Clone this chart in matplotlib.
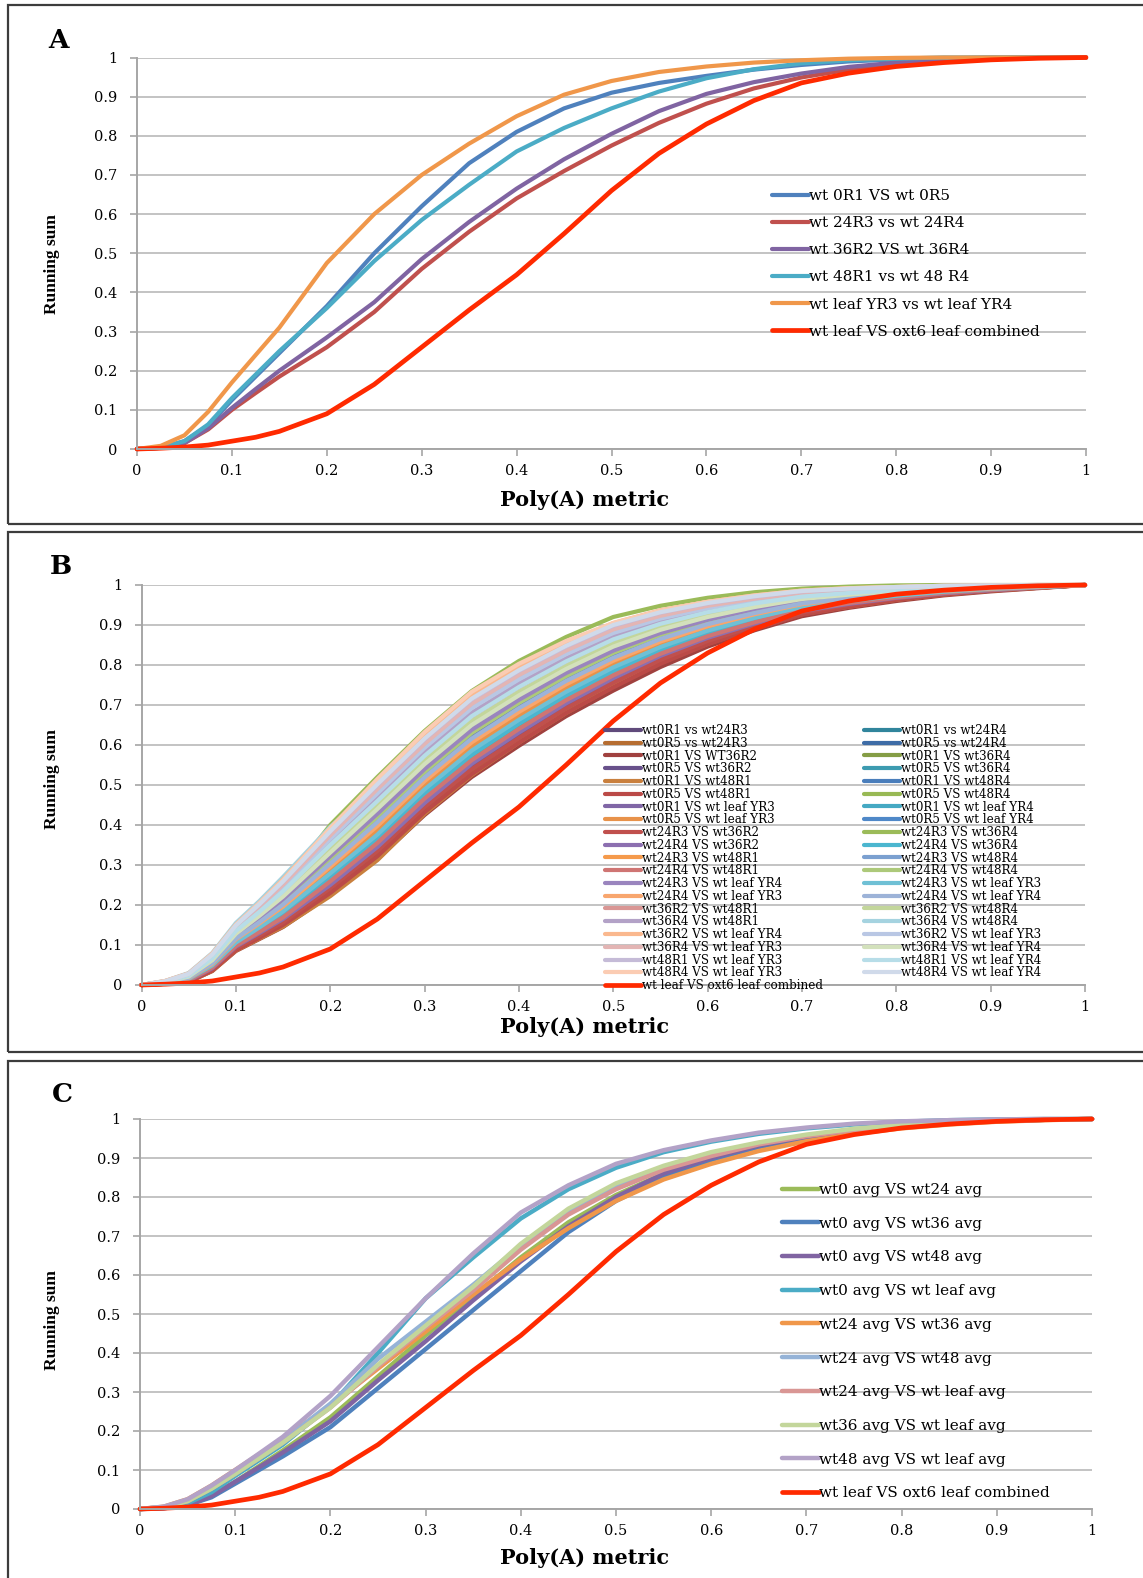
"""Three stacked running-sum panels (A, B, C) of the Poly(A) metric."""
import matplotlib
matplotlib.use("Agg")
import matplotlib.pyplot as plt
from matplotlib.patches import Rectangle
from matplotlib.ticker import MultipleLocator, FuncFormatter

W, H = 1143, 1578
DPI = 100

# x positions shared by every curve (denser near the origin, where the curves bend)
X = [0, .025, .05, .075, .1, .125, .15, .2, .25, .3, .35, .4, .45, .5, .55,
     .6, .65, .7, .75, .8, .85, .9, .95, 1]

# --- red reference curve (same in all panels) ---------------------------
RED_LABEL = "wt leaf VS oxt6 leaf combined"
RED_COLOR = "#FF2A00"
RED = [0, .002, .005, .01, .02, .03, .045, .09, .165, .26, .355, .445, .55,
       .66, .755, .83, .89, .935, .96, .977, .987, .994, .998, 1]

# --- panel A ------------------------------------------------------------
A_LABELS = ["wt 0R1 VS wt 0R5", "wt 24R3 vs wt 24R4", "wt 36R2 VS wt 36R4",
            "wt 48R1 vs wt 48 R4", "wt leaf YR3 vs wt leaf YR4"]
A_COLORS = ["#4F81BD", "#C0504D", "#8064A2", "#4BACC6", "#F0974A"]
A_BLUE = [0, .003, .02, .06, .125, .185, .245, .365, .50, .62, .73, .81, .87,
          .91, .935, .953, .969, .981, .99, .995, .998, 1, 1, 1]
A_BROWN = [0, .003, .015, .05, .10, .143, .185, .26, .35, .46, .555, .64, .71,
           .775, .833, .882, .921, .949, .969, .982, .99, .996, .999, 1]
A_PURPLE = [0, .003, .015, .053, .105, .153, .20, .285, .375, .485, .58, .665,
            .74, .805, .863, .907, .937, .959, .976, .987, .994, .998, 1, 1]
A_CYAN = [0, .003, .02, .063, .13, .19, .25, .36, .48, .585, .675, .76, .82,
          .87, .913, .947, .97, .985, .993, .997, 1, 1, 1, 1]
A_ORANGE = [0, .008, .035, .095, .17, .24, .31, .475, .60, .70, .78, .85, .905,
            .94, .963, .977, .987, .993, .997, .999, 1, 1, 1, 1]
A_VALUES = [A_BLUE, A_BROWN, A_PURPLE, A_CYAN, A_ORANGE]

# --- panel B (legend order, row by row) ---------------------------------
B_LABELS = [
    "wt0R1 vs wt24R3", "wt0R1 vs wt24R4",
    "wt0R5 vs wt24R3", "wt0R5 vs wt24R4",
    "wt0R1 VS WT36R2", "wt0R1 VS wt36R4",
    "wt0R5 VS wt36R2", "wt0R5 VS wt36R4",
    "wt0R1 VS wt48R1", "wt0R1 VS wt48R4",
    "wt0R5 VS wt48R1", "wt0R5 VS wt48R4",
    "wt0R1 VS wt leaf YR3", "wt0R1 VS wt leaf YR4",
    "wt0R5 VS wt leaf YR3", "wt0R5 VS wt leaf YR4",
    "wt24R3 VS wt36R2", "wt24R3 VS wt36R4",
    "wt24R4 VS wt36R2", "wt24R4 VS wt36R4",
    "wt24R3 VS wt48R1", "wt24R3 VS wt48R4",
    "wt24R4 VS wt48R1", "wt24R4 VS wt48R4",
    "wt24R3 VS wt leaf YR4", "wt24R3 VS wt leaf YR3",
    "wt24R4 VS wt leaf YR3", "wt24R4 VS wt leaf YR4",
    "wt36R2 VS wt48R1", "wt36R2 VS wt48R4",
    "wt36R4 VS wt48R1", "wt36R4 VS wt48R4",
    "wt36R2 VS wt leaf YR4", "wt36R2 VS wt leaf YR3",
    "wt36R4 VS wt leaf YR3", "wt36R4 VS wt leaf YR4",
    "wt48R1 VS wt leaf YR3", "wt48R1 VS wt leaf YR4",
    "wt48R4 VS wt leaf YR3", "wt48R4 VS wt leaf YR4",
]
B_COLORS = [
    "#604A7B", "#31859C", "#B66D31", "#3E6CA6", "#A0413F", "#859D45",
    "#68518B", "#3D9BB0", "#C9803E", "#4A7EBB", "#BB4A47", "#98B954",
    "#8066A6", "#45A9C3", "#E8924A", "#4F88C8", "#C0504D", "#9BBB59",
    "#8C6FB0", "#4BB6CF", "#F59A4B", "#7BA0D0", "#CF7573", "#ADC97A",
    "#9A85BE", "#6FC0D5", "#F8A66E", "#9DB3D8", "#D99694", "#C3D69B",
    "#B3A2C7", "#A5D3E0", "#FAB88E", "#B9C7E4", "#E3B5B4", "#D3E1BC",
    "#C5BBD7", "#B7DDE8", "#FBCCB3", "#D0DAEA",
]
B_VALUES = [
    [0, .004, .011, .042, .095, .129, .164, .252, .346, .456, .552, .63, .703, .766, .822, .867, .903, .935, .952, .967, .979, .987, .994, 1],
    [0, .005, .015, .049, .106, .144, .183, .278, .377, .488, .585, .662, .732, .793, .844, .885, .917, .945, .96, .973, .983, .99, .995, 1],
    [0, .003, .009, .037, .088, .12, .151, .234, .325, .435, .531, .61, .684, .749, .807, .856, .894, .928, .947, .964, .976, .986, .993, 1],
    [0, .005, .016, .051, .11, .148, .189, .286, .387, .498, .595, .672, .741, .801, .851, .89, .921, .948, .962, .974, .984, .99, .995, 1],
    [0, .003, .008, .035, .085, .115, .145, .225, .315, .425, .52, .598, .672, .736, .795, .846, .887, .922, .943, .96, .974, .984, .992, 1],
    [0, .004, .012, .044, .099, .134, .17, .26, .356, .467, .563, .641, .713, .775, .829, .873, .908, .938, .955, .969, .98, .988, .994, 1],
    [0, .004, .01, .04, .092, .125, .158, .243, .336, .446, .542, .62, .694, .758, .815, .862, .899, .932, .95, .966, .978, .987, .994, 1],
    [0, .005, .013, .046, .102, .139, .176, .269, .366, .477, .574, .652, .722, .784, .836, .879, .912, .941, .957, .971, .981, .989, .995, 1],
    [0, .003, .008, .035, .086, .116, .146, .222, .312, .428, .525, .606, .68, .746, .805, .853, .892, .927, .946, .963, .976, .986, .993, 1],
    [0, .005, .014, .048, .105, .143, .182, .28, .38, .49, .586, .664, .734, .795, .846, .886, .918, .946, .961, .973, .983, .99, .995, 1],
    [0, .003, .008, .036, .087, .118, .15, .23, .322, .432, .527, .606, .68, .744, .803, .852, .891, .926, .946, .963, .976, .986, .993, 1],
    [0, .004, .012, .045, .1, .135, .172, .262, .358, .468, .562, .64, .712, .776, .83, .874, .909, .939, .956, .97, .98, .988, .994, 1],
    [0, .007, .019, .058, .12, .163, .208, .313, .418, .53, .628, .703, .77, .828, .873, .908, .935, .958, .97, .98, .988, .993, .997, 1],
    [0, .005, .015, .049, .107, .145, .185, .28, .378, .487, .583, .66, .73, .79, .842, .884, .916, .944, .96, .973, .983, .99, .995, 1],
    [0, .005, .016, .051, .11, .149, .19, .287, .388, .5, .596, .673, .742, .802, .852, .891, .922, .948, .963, .975, .984, .991, .996, 1],
    [0, .006, .018, .055, .117, .158, .202, .304, .408, .52, .617, .693, .761, .819, .866, .902, .931, .955, .968, .978, .987, .992, .996, 1],
    [0, .004, .009, .039, .091, .124, .157, .242, .335, .445, .54, .618, .692, .756, .813, .86, .898, .931, .95, .966, .978, .987, .994, 1],
    [0, .009, .026, .071, .141, .193, .25, .40, .52, .635, .735, .81, .87, .92, .948, .968, .982, .991, .996, .999, 1, 1, 1, 1],
    [0, .004, .011, .042, .096, .13, .165, .25, .345, .455, .553, .631, .704, .767, .823, .868, .904, .935, .953, .968, .979, .987, .994, 1],
    [0, .005, .014, .046, .103, .14, .177, .27, .367, .478, .575, .653, .723, .785, .837, .88, .913, .942, .958, .971, .982, .989, .995, 1],
    [0, .006, .017, .053, .113, .153, .195, .295, .397, .509, .606, .682, .751, .81, .858, .896, .926, .951, .965, .976, .985, .991, .996, 1],
    [0, .007, .021, .062, .127, .172, .22, .33, .438, .551, .649, .723, .789, .845, .887, .919, .944, .964, .975, .984, .99, .994, .997, 1],
    [0, .004, .012, .044, .098, .133, .169, .259, .355, .466, .562, .64, .712, .774, .828, .872, .907, .937, .955, .969, .98, .988, .994, 1],
    [0, .007, .019, .058, .121, .164, .21, .315, .42, .532, .63, .705, .772, .83, .875, .909, .936, .959, .971, .98, .988, .993, .997, 1],
    [0, .007, .02, .06, .124, .168, .214, .322, .428, .54, .638, .713, .78, .836, .88, .913, .94, .961, .972, .982, .989, .993, .997, 1],
    [0, .005, .015, .049, .106, .144, .184, .279, .376, .489, .586, .663, .733, .794, .845, .886, .918, .945, .96, .973, .983, .99, .995, 1],
    [0, .006, .017, .053, .114, .154, .196, .296, .398, .51, .607, .683, .752, .811, .859, .897, .927, .952, .966, .977, .985, .991, .996, 1],
    [0, .006, .018, .055, .116, .157, .201, .303, .407, .519, .616, .692, .76, .818, .865, .902, .93, .954, .967, .978, .986, .992, .996, 1],
    [0, .008, .023, .067, .134, .182, .233, .348, .459, .572, .671, .744, .808, .863, .902, .931, .953, .971, .98, .987, .993, .996, .998, 1],
    [0, .008, .022, .064, .13, .177, .226, .339, .448, .561, .66, .733, .798, .854, .894, .925, .948, .967, .977, .985, .991, .995, .998, 1],
    [0, .008, .024, .069, .137, .186, .239, .356, .469, .582, .681, .754, .817, .871, .909, .936, .957, .974, .982, .989, .994, .996, .998, 1],
    [0, .01, .03, .08, .155, .21, .27, .395, .50, .605, .70, .77, .832, .884, .92, .945, .964, .978, .986, .991, .995, .997, .999, 1],
    [0, .01, .029, .078, .151, .205, .264, .391, .51, .624, .724, .795, .855, .905, .937, .958, .974, .986, .992, .995, .998, .999, 1, 1],
    [0, .009, .026, .071, .141, .191, .245, .365, .479, .593, .692, .764, .827, .88, .916, .942, .962, .977, .985, .991, .995, .997, .999, 1],
    [0, .009, .027, .073, .145, .196, .251, .374, .49, .603, .703, .775, .836, .889, .923, .948, .966, .98, .987, .992, .996, .998, .999, 1],
    [0, .007, .021, .062, .128, .173, .221, .331, .44, .552, .65, .724, .79, .846, .888, .92, .945, .965, .976, .985, .99, .994, .997, 1],
    [0, .009, .028, .076, .148, .201, .258, .383, .50, .614, .714, .785, .846, .898, .931, .954, .971, .984, .99, .994, .998, .999, 1, 1],
    [0, .008, .023, .067, .135, .183, .234, .35, .46, .573, .672, .745, .809, .864, .903, .932, .954, .971, .98, .987, .993, .996, .998, 1],
    [0, .01, .028, .078, .15, .205, .262, .392, .515, .632, .733, .803, .86, .905, .936, .958, .974, .986, .992, .995, .998, .999, 1, 1],
    [0, .009, .028, .076, .149, .202, .259, .384, .502, .616, .716, .787, .848, .90, .932, .955, .972, .985, .991, .995, .998, .999, 1, 1],
]

# --- panel C ------------------------------------------------------------
C_LABELS = ["wt0 avg VS wt24 avg", "wt0 avg VS wt36 avg", "wt0 avg VS wt48 avg",
            "wt0 avg VS wt leaf avg", "wt24 avg VS wt36 avg", "wt24 avg VS wt48 avg",
            "wt24 avg VS wt leaf avg", "wt36 avg VS wt leaf avg", "wt48 avg VS wt leaf avg"]
C_COLORS = ["#9BBB59", "#4F81BD", "#8064A2", "#4BACC6", "#F0974A",
            "#95B3D7", "#D99694", "#C3D69B", "#B3A2C7"]
C_VALUES = [
    [0, .003, .012, .035, .07, .11, .15, .235, .34, .445, .545, .645, .735, .805, .86, .90, .93, .953, .97, .982, .99, .995, .998, 1],
    [0, .002, .01, .03, .065, .10, .135, .21, .31, .41, .51, .61, .71, .79, .85, .895, .928, .952, .968, .98, .989, .995, .998, 1],
    [0, .002, .01, .033, .07, .107, .145, .225, .33, .43, .535, .635, .725, .80, .86, .90, .932, .955, .97, .982, .99, .995, .998, 1],
    [0, .004, .015, .043, .085, .125, .165, .265, .40, .54, .645, .745, .82, .875, .915, .942, .962, .976, .986, .993, .997, .999, 1, 1],
    [0, .006, .025, .06, .10, .14, .18, .265, .36, .455, .55, .64, .72, .79, .845, .885, .918, .943, .962, .976, .986, .993, .997, 1],
    [0, .005, .022, .055, .095, .135, .175, .27, .385, .48, .575, .675, .76, .83, .875, .91, .937, .958, .973, .984, .991, .996, .998, 1],
    [0, .005, .02, .052, .09, .13, .17, .26, .365, .465, .56, .665, .755, .82, .87, .905, .935, .956, .972, .983, .991, .995, .998, 1],
    [0, .005, .02, .052, .09, .13, .17, .26, .37, .47, .57, .68, .77, .835, .88, .915, .94, .96, .975, .985, .992, .997, .999, 1],
    [0, .006, .025, .06, .10, .142, .185, .29, .415, .54, .655, .76, .83, .885, .92, .945, .965, .978, .988, .994, .997, .999, 1, 1],
]

SERIF = ["DejaVu Serif"]
GRID = "#BEBEBE"
SPINE = "#A6A6A6"


def fx(px):
    return px / W


def fy(py):
    return 1 - py / H


def make_axes(fig, left, right, top, bottom):
    ax = fig.add_axes([fx(left), fy(bottom), fx(right - left), (bottom - top) / H])
    ax.set_xlim(0, 1)
    ax.set_ylim(0, 1)
    ax.xaxis.set_major_locator(MultipleLocator(0.1))
    ax.yaxis.set_major_locator(MultipleLocator(0.1))
    fmt = FuncFormatter(lambda v, p: f"{round(v, 1):g}")
    ax.xaxis.set_major_formatter(fmt)
    ax.yaxis.set_major_formatter(fmt)
    for s in ("top", "right"):
        ax.spines[s].set_visible(False)
    for s in ("left", "bottom"):
        ax.spines[s].set_color(SPINE)
        ax.spines[s].set_linewidth(1.4)
    ax.tick_params(axis="both", direction="out", length=5, width=1.2,
                   color=SPINE, labelsize=10.5)
    ax.tick_params(axis="y", pad=9)
    ax.tick_params(axis="x", pad=6)
    for lab in ax.get_xticklabels() + ax.get_yticklabels():
        lab.set_family(SERIF)
    ax.yaxis.grid(True, color=GRID, lw=1.3)
    ax.set_axisbelow(True)
    return ax


def labels(fig, letter, letter_xy, ylab_xy, xlab_xy):
    fig.text(fx(letter_xy[0]), fy(letter_xy[1]), letter, family=SERIF,
             fontweight="bold", fontsize=19, ha="center", va="center")
    fig.text(fx(ylab_xy[0]), fy(ylab_xy[1]), "Running sum",
             family=["Liberation Serif"], fontweight="bold", fontsize=12.5,
             rotation=90, ha="center", va="center")
    fig.text(fx(xlab_xy[0]), fy(xlab_xy[1]), "Poly(A) metric", family=SERIF,
             fontweight="bold", fontsize=15, ha="center", va="center")


def frame(fig, top, bottom):
    fig.add_artist(Rectangle((fx(7.5), fy(bottom)), fx(1160), (bottom - top) / H,
                             transform=fig.transFigure, fill=False,
                             ec="#3C3C3C", lw=1.6, clip_on=False))


fig = plt.figure(figsize=(W / DPI, H / DPI), dpi=DPI)
fig.patch.set_facecolor("white")

frame(fig, 5, 524)
frame(fig, 532, 1052)
frame(fig, 1061, 1600)

# --- A ---
axA = make_axes(fig, 137, 1086, 57.5, 449)
handlesA = []
for lab, col, vals in zip(A_LABELS, A_COLORS, A_VALUES):
    h, = axA.plot(X, vals, color=col, lw=3.0, label=lab, clip_on=False,
                  solid_capstyle="round", solid_joinstyle="round")
    handlesA.append(h)
h, = axA.plot(X, RED, color=RED_COLOR, lw=3.4, label=RED_LABEL, clip_on=False,
              solid_capstyle="round", solid_joinstyle="round")
handlesA.append(h)
axA.legend(handles=handlesA, loc="upper left",
           bbox_to_anchor=(fx(772), fy(189)), bbox_transform=fig.transFigure,
           frameon=False, prop={"family": SERIF, "size": 11}, handlelength=2.4,
           handletextpad=0.05, labelspacing=0.86, borderpad=0, borderaxespad=0)
labels(fig, "A", (58, 41), (52, 264), (585, 500))

# --- B ---
axB = make_axes(fig, 141.5, 1085, 585, 985)
handlesB = []
for lab, col, vals in zip(B_LABELS, B_COLORS, B_VALUES):
    h, = axB.plot(X, vals, color=col, lw=3.0, label=lab, clip_on=False,
                  solid_capstyle="round", solid_joinstyle="round")
    handlesB.append(h)
hr, = axB.plot(X, RED, color=RED_COLOR, lw=3.4, label=RED_LABEL, clip_on=False,
               solid_capstyle="round", solid_joinstyle="round")
propB = {"family": SERIF, "size": 8.6}
leg1 = axB.legend(handles=handlesB[0::2] + [hr], loc="upper left",
                  bbox_to_anchor=(fx(605), fy(724)), bbox_transform=fig.transFigure,
                  frameon=False, prop=propB, handlelength=3.0, handletextpad=0.1,
                  labelspacing=-0.02, borderpad=0, borderaxespad=0)
axB.add_artist(leg1)
axB.legend(handles=handlesB[1::2], loc="upper left",
           bbox_to_anchor=(fx(864), fy(724)), bbox_transform=fig.transFigure,
           frameon=False, prop=propB, handlelength=3.0, handletextpad=0.1,
           labelspacing=-0.02, borderpad=0, borderaxespad=0)
labels(fig, "B", (61, 567), (52, 779), (585, 1027))

# --- C ---
axC = make_axes(fig, 140, 1092, 1119, 1509)
handlesC = []
for lab, col, vals in zip(C_LABELS, C_COLORS, C_VALUES):
    h, = axC.plot(X, vals, color=col, lw=3.2, label=lab, clip_on=False,
                  solid_capstyle="round", solid_joinstyle="round")
    handlesC.append(h)
h, = axC.plot(X, RED, color=RED_COLOR, lw=3.4, label=RED_LABEL, clip_on=False,
              solid_capstyle="round", solid_joinstyle="round")
handlesC.append(h)
axC.legend(handles=handlesC, loc="upper left",
           bbox_to_anchor=(fx(782), fy(1183)), bbox_transform=fig.transFigure,
           frameon=False, prop={"family": SERIF, "size": 11}, handlelength=2.4,
           handletextpad=0.05, labelspacing=1.29, borderpad=0, borderaxespad=0)
labels(fig, "C", (62, 1095), (52, 1320), (585, 1558))

fig.savefig("out.png", dpi=DPI, facecolor="white")
